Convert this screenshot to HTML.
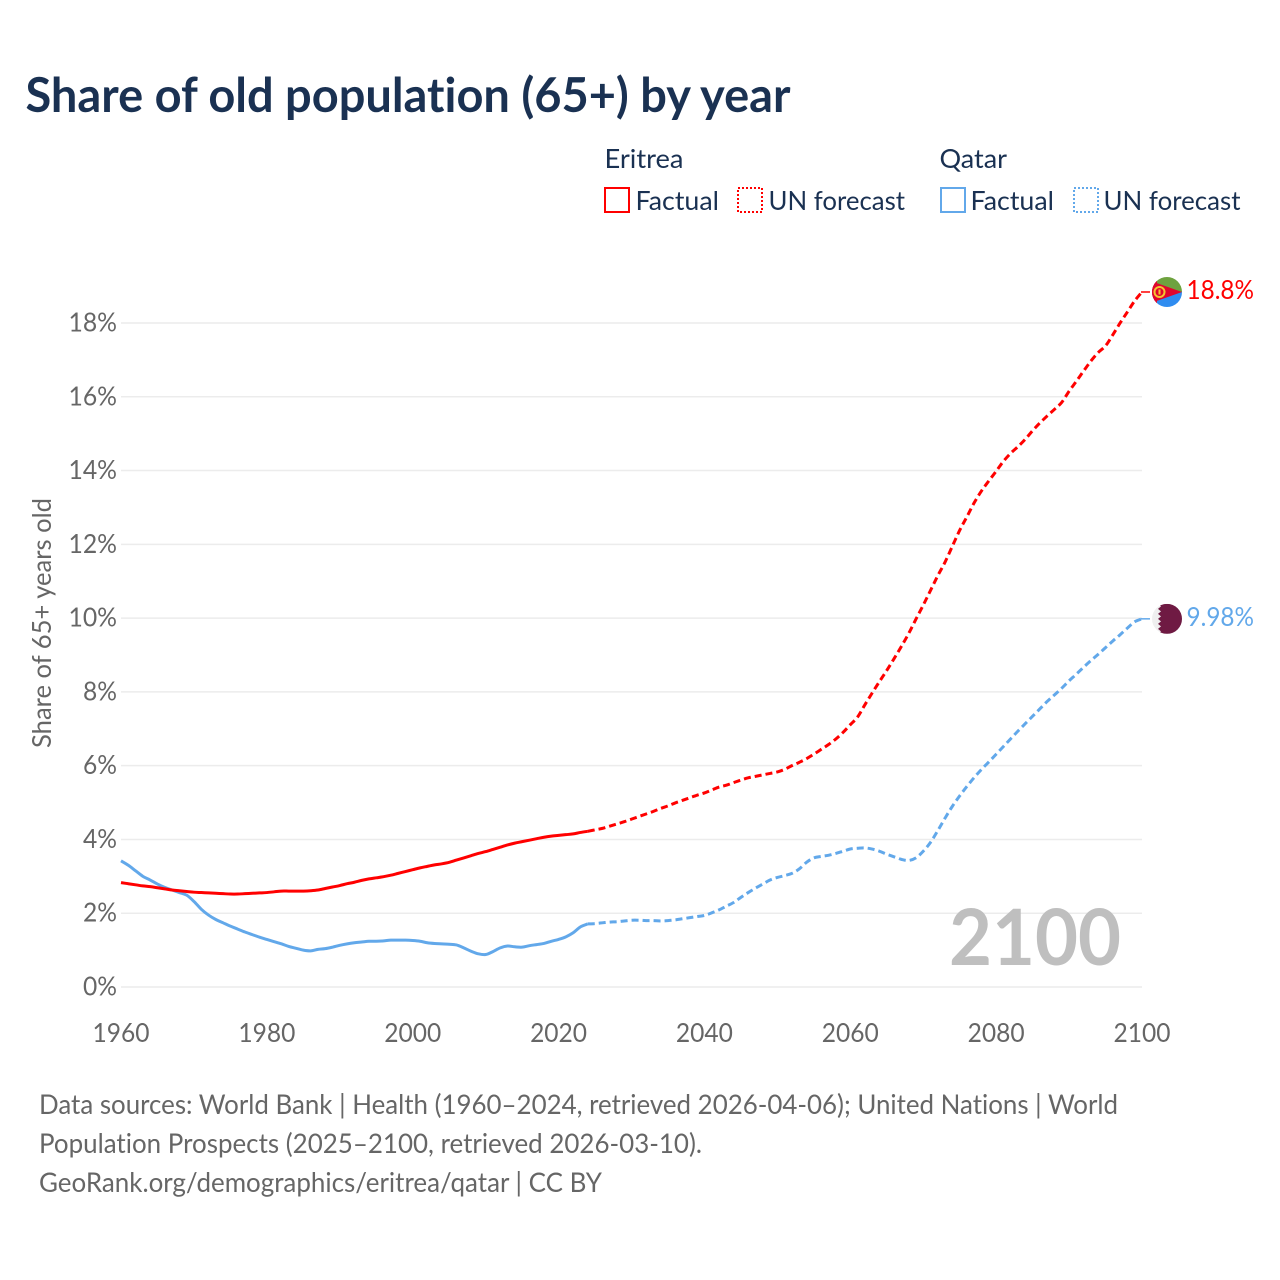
<!DOCTYPE html>
<html lang="en">
<head>
<meta charset="utf-8">
<title>Share of old population (65+) by year</title>
<style>
html,body{margin:0;padding:0;background:#fff;}
svg{display:block;}
text{font-family:"Lato","Carlito","Liberation Sans",sans-serif;font-variant-ligatures:none;font-feature-settings:"liga" 0,"clig" 0;}
</style>
</head>
<body>
<svg id="chart" xmlns="http://www.w3.org/2000/svg" width="1280" height="1280" viewBox="0 0 1280 1280">
  <rect x="0" y="0" width="1280" height="1280" fill="#ffffff"/>
  <text x="25.5" y="112" font-size="48" font-weight="700" fill="#1a3152" textLength="765" lengthAdjust="spacingAndGlyphs">Share of old population (65+) by year</text>

  <g font-size="26.5" fill="#1a3152">
    <text x="604.5" y="168" textLength="79" lengthAdjust="spacingAndGlyphs">Eritrea</text>
    <rect x="605" y="188" width="24" height="24" fill="none" stroke="#ff0000" stroke-width="2"/>
    <text x="635.5" y="210" textLength="83.5" lengthAdjust="spacingAndGlyphs">Factual</text>
    <rect x="738" y="188" width="24" height="24" fill="none" stroke="#ff0000" stroke-width="2" stroke-dasharray="2 2"/>
    <text x="768.5" y="210" textLength="136.5" lengthAdjust="spacingAndGlyphs">UN forecast</text>
    <text x="939.5" y="168" textLength="67.5" lengthAdjust="spacingAndGlyphs">Qatar</text>
    <rect x="941" y="188" width="24" height="24" fill="none" stroke="#62a8ea" stroke-width="2"/>
    <text x="970.5" y="210" textLength="83.5" lengthAdjust="spacingAndGlyphs">Factual</text>
    <rect x="1074" y="188" width="24" height="24" fill="none" stroke="#62a8ea" stroke-width="2" stroke-dasharray="2 2"/>
    <text x="1103.5" y="210" textLength="137" lengthAdjust="spacingAndGlyphs">UN forecast</text>
  </g>

  <g id="grid"></g>
  <g id="ticks" font-size="26.5" fill="#666666"></g>

  <text transform="translate(51 623) rotate(-90)" text-anchor="middle" font-size="26.5" fill="#666666" textLength="250" lengthAdjust="spacingAndGlyphs">Share of 65+ years old</text>

  <text x="949" y="965" font-size="78" font-weight="700" fill="#bfbfbf" textLength="172" lengthAdjust="spacingAndGlyphs">2100</text>

  <g id="series"></g>

  <defs>
    <clipPath id="clip-flag"><circle cx="0" cy="0" r="15"/></clipPath>
  </defs>
  <g id="flag-eritrea">
    <g clip-path="url(#clip-flag)">
      <rect x="-15" y="-15" width="30" height="15" fill="#6ea23f"/>
      <rect x="-15" y="0" width="30" height="15" fill="#2f8cf0"/>
      <polygon points="-16,-11 15,0 -16,11" fill="#e0062d"/>
      <rect x="-16" y="-11" width="6" height="22" fill="#e0062d"/>
      <circle cx="-7.5" cy="0" r="5" fill="none" stroke="#f4c430" stroke-width="2"/>
      <rect x="-8.5" y="-2.5" width="2" height="5" fill="#f4c430"/>
    </g>
  </g>
  <g id="flag-qatar">
    <g clip-path="url(#clip-flag)">
      <rect x="-15" y="-15" width="30" height="30" fill="#efefef"/>
      <polygon points="15,-15 -9,-15 -6,-12.5 -9,-10 -6,-7.5 -9,-5 -6,-2.5 -9,0 -6,2.5 -9,5 -6,7.5 -9,10 -6,12.5 -9,15 15,15" fill="#6f1a43"/>
    </g>
  </g>
  <text id="label-eritrea" x="1186.5" font-size="26.5" fill="#ff0000" textLength="67.5" lengthAdjust="spacingAndGlyphs"></text>
  <text id="label-qatar" x="1186.5" font-size="26.5" fill="#62a8ea" textLength="67.5" lengthAdjust="spacingAndGlyphs"></text>

  <g font-size="27" fill="#666666">
    <text x="39" y="1114" textLength="1079" lengthAdjust="spacingAndGlyphs">Data sources: World Bank | Health (1960–2024, retrieved 2026-04-06); United Nations | World</text>
    <text x="39" y="1153" textLength="663" lengthAdjust="spacingAndGlyphs">Population Prospects (2025–2100, retrieved 2026-03-10).</text>
    <text x="39" y="1192" textLength="563" lengthAdjust="spacingAndGlyphs">GeoRank.org/demographics/eritrea/qatar | CC BY</text>
  </g>
</svg>
<script>
const yTickValues = [0, 2, 4, 6, 8, 10, 12, 14, 16, 18];
const xTickYears = [1960, 1980, 2000, 2020, 2040, 2060, 2080, 2100];
const factualStartYear = 1960;
const forecastStartYear = 2024;
const eritreaFactual = [
  2.83,2.80,2.77,2.74,2.72,2.69,2.66,2.63,2.61,2.59,
  2.57,2.56,2.55,2.54,2.53,2.52,2.52,2.53,2.54,2.55,
  2.56,2.58,2.60,2.60,2.60,2.60,2.61,2.63,2.67,2.71,
  2.75,2.80,2.84,2.89,2.93,2.96,2.99,3.03,3.08,3.13,
  3.18,3.23,3.27,3.31,3.34,3.38,3.44,3.50,3.56,3.62,
  3.67,3.73,3.79,3.85,3.90,3.94,3.98,4.02,4.06,4.09,
  4.11,4.13,4.15,4.19,4.22
];
const eritreaForecast = [
  4.22,4.26,4.30,4.36,4.42,4.48,
  4.55,4.62,4.69,4.76,4.84,4.91,4.99,5.06,5.13,5.20,
  5.26,5.34,5.42,5.47,5.54,5.61,5.67,5.71,5.75,5.79,
  5.83,5.90,6.00,6.09,6.19,6.31,6.44,6.57,6.72,6.90,
  7.11,7.32,7.65,7.97,8.28,8.58,8.90,9.23,9.58,9.97,
  10.35,10.75,11.15,11.52,11.95,12.38,12.75,13.13,13.45,13.72,
  13.98,14.25,14.47,14.65,14.85,15.08,15.29,15.48,15.66,15.85,
  16.15,16.42,16.70,16.97,17.20,17.38,17.68,18.00,18.30,18.60,
  18.84
];
const qatarFactual = [
  3.42,3.30,3.15,3.00,2.90,2.79,2.70,2.63,2.56,2.49,
  2.32,2.11,1.95,1.83,1.74,1.65,1.57,1.49,1.42,1.35,
  1.29,1.23,1.17,1.10,1.05,1.00,0.98,1.02,1.04,1.08,
  1.13,1.17,1.20,1.22,1.24,1.24,1.25,1.27,1.27,1.27,
  1.26,1.24,1.20,1.18,1.17,1.16,1.14,1.06,0.97,0.90,
  0.88,0.96,1.06,1.11,1.09,1.08,1.12,1.15,1.18,1.24,
  1.29,1.36,1.47,1.63,1.71
];
const qatarForecast = [
  1.71,1.72,1.74,1.76,1.77,1.79,
  1.81,1.81,1.80,1.80,1.79,1.80,1.82,1.85,1.88,1.91,
  1.94,2.01,2.09,2.19,2.29,2.43,2.56,2.68,2.79,2.90,
  2.97,3.02,3.08,3.20,3.38,3.50,3.54,3.57,3.62,3.68,
  3.74,3.76,3.77,3.74,3.68,3.60,3.53,3.46,3.43,3.50,
  3.68,3.92,4.24,4.58,4.90,5.18,5.44,5.68,5.90,6.10,
  6.31,6.52,6.73,6.94,7.14,7.34,7.54,7.74,7.92,8.10,
  8.30,8.48,8.67,8.85,9.02,9.20,9.38,9.55,9.73,9.90,
  9.98
];
const eritreaEndLabel = "18.8%";
const qatarEndLabel = "9.98%";

const NS = "http://www.w3.org/2000/svg";
const plotLeft = 121, plotRight = 1142, plotBottom = 987;
function xScale(year) { return plotLeft + (year - 1960) * (plotRight - plotLeft) / 140; }
function yScale(v) { return plotBottom - v * 36.89; }
function toPath(values, startYear) {
  const pts = values.map(function (v, i) { return [xScale(startYear + i), yScale(v)]; });
  let d = "M" + pts[0][0].toFixed(2) + " " + pts[0][1].toFixed(2);
  for (let i = 0; i < pts.length - 1; i++) {
    const p0 = pts[Math.max(i - 1, 0)], p1 = pts[i], p2 = pts[i + 1], p3 = pts[Math.min(i + 2, pts.length - 1)];
    const c1x = p1[0] + (p2[0] - p0[0]) / 6, c1y = p1[1] + (p2[1] - p0[1]) / 6;
    const c2x = p2[0] - (p3[0] - p1[0]) / 6, c2y = p2[1] - (p3[1] - p1[1]) / 6;
    d += "C" + c1x.toFixed(2) + " " + c1y.toFixed(2) + " " + c2x.toFixed(2) + " " + c2y.toFixed(2) + " " + p2[0].toFixed(2) + " " + p2[1].toFixed(2);
  }
  return d;
}

const grid = document.getElementById("grid");
const ticks = document.getElementById("ticks");
yTickValues.forEach(function (v) {
  const line = document.createElementNS(NS, "line");
  
  
  line.setAttribute("x1", plotLeft);
  line.setAttribute("x2", plotRight);
  line.setAttribute("y1", yScale(v));
  line.setAttribute("y2", yScale(v));
  line.setAttribute("stroke", "#ececec");
  line.setAttribute("stroke-width", "1.5");
  grid.appendChild(line);

  const t = document.createElementNS(NS, "text");
  
  
  const s = v + "%";
  t.textContent = s;
  t.setAttribute("x", 117);
  t.setAttribute("y", yScale(v) + 8.5);
  t.setAttribute("text-anchor", "end");
  t.setAttribute("textLength", (s.length - 1) * 14.5 + 19.5);
  t.setAttribute("lengthAdjust", "spacingAndGlyphs");
  ticks.appendChild(t);
});
xTickYears.forEach(function (year) {
  const t = document.createElementNS(NS, "text");
  
  
  t.textContent = String(year);
  t.setAttribute("x", xScale(year));
  t.setAttribute("y", 1042);
  t.setAttribute("text-anchor", "middle");
  t.setAttribute("textLength", 57);
  t.setAttribute("lengthAdjust", "spacingAndGlyphs");
  ticks.appendChild(t);
});

const seriesGroup = document.getElementById("series");
function addLine(values, startYear, color, dashed) {
  const p = document.createElementNS(NS, "path");
  
  
  p.setAttribute("d", toPath(values, startYear));
  p.setAttribute("fill", "none");
  p.setAttribute("stroke", color);
  p.setAttribute("stroke-width", "3");
  p.setAttribute("stroke-linejoin", "round");
  if (dashed) p.setAttribute("stroke-dasharray", "7 4");
  seriesGroup.appendChild(p);
}
function addConnector(endValue, color) {
  const c = document.createElementNS(NS, "line");
  
  
  c.setAttribute("x1", plotRight - 1);
  c.setAttribute("x2", 1150);
  c.setAttribute("y1", yScale(endValue));
  c.setAttribute("y2", yScale(endValue));
  c.setAttribute("stroke", color);
  c.setAttribute("stroke-width", "1.5");
  seriesGroup.appendChild(c);
}
addLine(qatarFactual, factualStartYear, "#62a8ea", false);
addLine(qatarForecast, forecastStartYear, "#62a8ea", true);
addLine(eritreaFactual, factualStartYear, "#ff0000", false);
addLine(eritreaForecast, forecastStartYear, "#ff0000", true);
const eritreaEnd = eritreaForecast[eritreaForecast.length - 1];
const qatarEnd = qatarForecast[qatarForecast.length - 1];
addConnector(eritreaEnd, "#ff0000");
addConnector(qatarEnd, "#62a8ea");

document.getElementById("flag-eritrea").setAttribute("transform", "translate(1167 " + yScale(eritreaEnd) + ")");
document.getElementById("flag-qatar").setAttribute("transform", "translate(1167 " + yScale(qatarEnd) + ")");
const le = document.getElementById("label-eritrea");
le.textContent = eritreaEndLabel;
le.setAttribute("y", yScale(eritreaEnd) + 7);
const lq = document.getElementById("label-qatar");
lq.textContent = qatarEndLabel;
lq.setAttribute("y", yScale(qatarEnd) + 7);
</script>
</body>
</html>
